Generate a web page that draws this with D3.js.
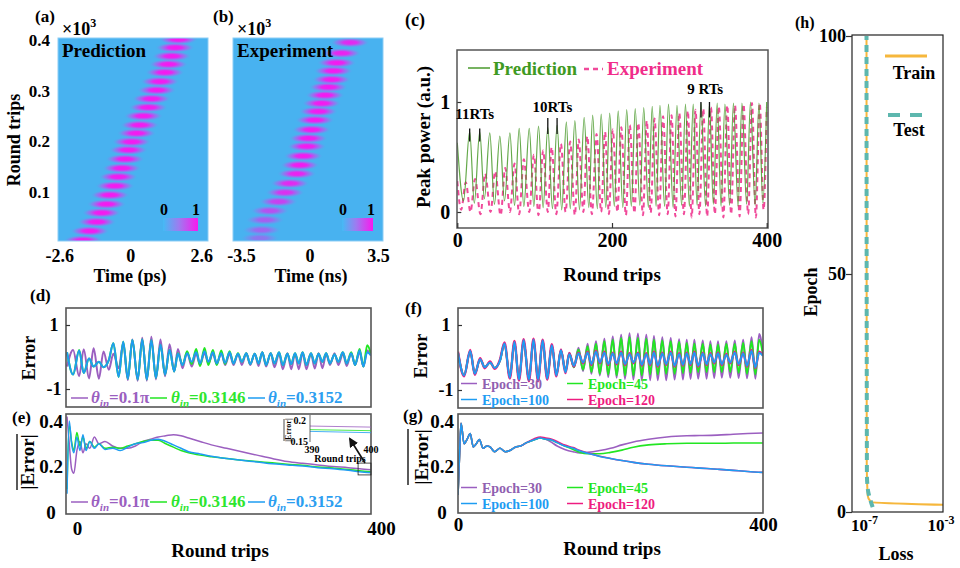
<!DOCTYPE html>
<html lang="en">
<head>
<meta charset="UTF-8">
<title>Pulse evolution prediction</title>
<script src="https://d3js.org/d3.v7.min.js"></script>
<style>
  body { margin: 0; background: #fff; }
  svg text { font-family: "Liberation Serif", "Times New Roman", serif; font-weight: bold; }
</style>
</head>
<body>
<svg width="960" height="568"></svg>
<script>
// ---------- data ----------

// (a) bright stripes: round trip and temporal centre (ps)
const stripeRtA = [5, 23, 41, 59, 76, 94, 112, 130, 147, 165, 183, 199, 216, 232, 250, 267, 284, 301, 318, 336, 352, 368, 385, 401];
const stripeTimeA = [-1.72, -1.48, -1.23, -1.05, -0.87, -0.74, -0.56, -0.44, -0.31, -0.19, -0.07, 0.05, 0.23, 0.35, 0.48, 0.66, 0.78, 0.97, 1.09, 1.27, 1.40, 1.52, 1.64, 1.76];
// (b) measured stripes: round trip, centre (ns), relative brightness
const stripeRtB = [9, 25, 45, 63, 81, 99, 117, 136, 153, 171, 190, 206, 223, 242, 259, 275, 291, 307, 322, 339, 355, 374, 395];
const stripeTimeB = [-2.53, -2.44, -2.27, -2.02, -1.59, -1.25, -1.00, -0.65, -0.49, -0.32, -0.14, -0.06, 0.11, 0.28, 0.45, 0.62, 0.79, 0.96, 1.13, 1.22, 1.39, 1.64, 2.07];
const stripeLevelB = [0.4, 0.5, 0.55, 0.65, 0.75, 0.85, 0.9, 0.95, 1, 1, 1, 1, 1, 1, 1, 1, 1, 1, 1, 1, 1, 0.95, 0.9];

// (c) predicted peak power, sampled at its maxima / minima (round trips)
const rtGrid = [0, 8, 16, 22, 29, 35, 42, 48, 55, 61, 68, 74, 80, 86, 93, 99, 105, 111, 117, 123,
  129, 135, 141, 146, 152, 158, 164, 170, 175, 181, 186, 192, 197, 203, 208, 214, 219, 225, 230, 236,
  241, 247, 252, 257, 262, 268, 273, 279, 284, 290, 295, 300, 305, 310, 315, 321, 326, 331, 336, 341,
  346, 352, 357, 363, 368, 374, 379, 385, 390, 395, 400];
const predPower = [0.63, 0.10, 0.73, 0.08, 0.73, 0.12, 0.72, 0.07, 0.69, 0.10,
  0.72, 0.06, 0.76, 0.05, 0.76, 0.05, 0.78, 0.04, 0.77, 0.03,
  0.79, 0.02, 0.82, 0.03, 0.83, 0.02, 0.86, 0.04, 0.88, 0.03,
  0.89, 0.04, 0.90, 0.05, 0.92, 0.04, 0.93, 0.05, 0.94, 0.06,
  0.95, 0.04, 0.96, 0.05, 0.97, 0.05, 0.98, 0.04, 0.97, 0.06,
  0.98, 0.05, 0.98, 0.06, 0.99, 0.05, 0.98, 0.07, 0.99, 0.05,
  0.98, 0.06, 0.99, 0.05, 0.99, 0.07, 1.00, 0.06, 0.99, 0.08, 1.00];
// (c) measured peak power
const expRT = [0, 5, 11, 17, 23, 30, 36, 43, 49, 56, 62, 68, 74, 80, 86, 93, 99, 105, 111, 117,
  122, 128, 134, 140, 146, 152, 157, 163, 168, 174, 180, 186, 191, 196, 201, 207, 212, 218, 223, 229,
  234, 240, 245, 250, 255, 261, 266, 272, 277, 282, 287, 293, 298, 303, 308, 313, 318, 323, 328, 333,
  338, 344, 349, 354, 359, 365, 370, 376, 381, 386, 391, 396, 400];
const expPower = [0.28, 0.02, 0.27, 0.00, 0.30, -0.02, 0.35, 0.00, 0.37, -0.03,
  0.40, 0.00, 0.44, -0.02, 0.48, 0.00, 0.52, -0.03, 0.56, 0.00,
  0.59, -0.02, 0.62, 0.00, 0.64, -0.03, 0.66, 0.00, 0.69, -0.02,
  0.71, 0.00, 0.73, -0.02, 0.75, 0.00, 0.77, -0.03, 0.79, -0.01,
  0.81, -0.03, 0.83, -0.01, 0.85, -0.03, 0.87, -0.02, 0.88, -0.04,
  0.90, -0.02, 0.92, -0.05, 0.93, -0.02, 0.94, -0.04, 0.95, -0.02,
  0.96, -0.05, 0.97, -0.02, 0.97, -0.04, 0.98, -0.02, 0.99, -0.05,
  0.99, 0.02, 0.95];
// (c) marked periods
const markLabels = ["11RTs", "10RTs", "9 RTs"];
const markRT = [[16, 29], [117, 129], [315, 326]];
const markTop = [0.76, 0.855, 1.0];
const markBottom = [0.64, 0.71, 0.86];

// (d) error for three input angles, on rtGrid
const errTheta01pi = [-0.30, 0.22, -0.60, 0.24, -0.67, 0.27, -0.68, 0.17, -0.40, 0.10,
  -0.35, 0.43, -0.72, 0.55, -0.74, 0.60, -0.74, 0.63, -0.70, 0.55,
  -0.60, 0.40, -0.45, 0.25, -0.35, 0.15, -0.30, 0.10, -0.25, 0.12,
  -0.20, 0.10, -0.22, 0.12, -0.25, 0.10, -0.25, 0.10, -0.25, 0.12,
  -0.25, 0.10, -0.28, 0.15, -0.30, 0.12, -0.32, 0.10, -0.38, 0.12,
  -0.38, 0.10, -0.38, 0.12, -0.38, 0.10, -0.36, 0.12, -0.35, 0.10,
  -0.25, 0.12, -0.25, 0.10, -0.28, 0.12, -0.25, 0.15, -0.30, 0.20, 0.05];
const errTheta3146 = [0.15, -0.55, 0.22, -0.50, -0.05, -0.30, -0.15, -0.32, -0.10, 0.43,
  -0.62, 0.48, -0.68, 0.53, -0.70, 0.55, -0.70, 0.52, -0.65, 0.38,
  -0.55, 0.22, -0.45, 0.12, -0.25, 0.18, -0.22, 0.25, -0.28, 0.28,
  -0.25, 0.22, -0.25, 0.20, -0.22, 0.18, -0.20, 0.12, -0.15, 0.12,
  -0.22, 0.10, -0.20, 0.15, -0.25, 0.12, -0.20, 0.15, -0.25, 0.10,
  -0.22, 0.12, -0.20, 0.15, -0.25, 0.12, -0.20, 0.10, -0.15, 0.12,
  -0.20, 0.08, -0.15, 0.15, -0.20, 0.15, -0.25, 0.25, -0.30, 0.37, 0.10];
const errTheta3152 = [0.15, -0.55, 0.20, -0.50, -0.05, -0.30, -0.15, -0.32, -0.10, 0.43,
  -0.62, 0.48, -0.68, 0.53, -0.70, 0.55, -0.70, 0.52, -0.65, 0.38,
  -0.55, 0.22, -0.45, 0.10, -0.25, 0.12, -0.15, 0.15, -0.20, 0.18,
  -0.15, 0.15, -0.20, 0.12, -0.18, 0.15, -0.20, 0.10, -0.15, 0.12,
  -0.22, 0.10, -0.20, 0.15, -0.25, 0.12, -0.20, 0.15, -0.25, 0.10,
  -0.22, 0.12, -0.20, 0.15, -0.25, 0.12, -0.20, 0.10, -0.15, 0.12,
  -0.20, 0.08, -0.15, 0.15, -0.20, 0.12, -0.25, 0.20, -0.30, 0.15, 0.05];

// (e) running mean |Error|
const eRT = [0, 3, 6, 9, 13, 17, 21, 25, 30, 36, 42, 50, 60, 70, 80, 90, 100, 110, 120, 130,
  140, 150, 160, 175, 190, 210, 230, 250, 270, 290, 310, 330, 350, 370, 385, 400];
const absTheta01pi = [0.42, 0.30, 0.19, 0.17, 0.27, 0.31, 0.26, 0.30, 0.28, 0.33, 0.30, 0.31, 0.29, 0.28, 0.28, 0.29, 0.31, 0.32, 0.33, 0.335,
  0.34, 0.335, 0.325, 0.31, 0.295, 0.28, 0.265, 0.25, 0.235, 0.222, 0.214, 0.207, 0.20, 0.195, 0.19, 0.186];
const absTheta3146 = [0.10, 0.38, 0.31, 0.27, 0.35, 0.29, 0.33, 0.28, 0.31, 0.285, 0.30, 0.28, 0.285, 0.28, 0.29, 0.30, 0.31, 0.315, 0.315, 0.30,
  0.285, 0.27, 0.26, 0.25, 0.243, 0.235, 0.228, 0.222, 0.216, 0.21, 0.205, 0.198, 0.193, 0.187, 0.181, 0.177];
const absTheta3152 = [0.08, 0.40, 0.30, 0.26, 0.33, 0.27, 0.34, 0.27, 0.31, 0.28, 0.30, 0.275, 0.28, 0.27, 0.285, 0.30, 0.305, 0.315, 0.32, 0.31,
  0.295, 0.28, 0.265, 0.255, 0.245, 0.235, 0.227, 0.22, 0.212, 0.207, 0.202, 0.195, 0.19, 0.183, 0.177, 0.172];

// (f) error for four training epochs, on rtGrid
const errEpoch30 = [0.15, -0.55, 0.20, -0.50, -0.05, -0.30, -0.15, -0.32, -0.10, 0.43,
  -0.62, 0.48, -0.68, 0.53, -0.70, 0.55, -0.70, 0.52, -0.65, 0.38,
  -0.55, 0.22, -0.40, 0.15, -0.30, 0.30, -0.42, 0.42, -0.50, 0.50,
  -0.55, 0.58, -0.60, 0.65, -0.62, 0.70, -0.66, 0.75, -0.68, 0.74,
  -0.70, 0.70, -0.70, 0.66, -0.70, 0.62, -0.70, 0.60, -0.68, 0.56,
  -0.68, 0.55, -0.66, 0.55, -0.65, 0.52, -0.65, 0.50, -0.63, 0.50,
  -0.62, 0.50, -0.62, 0.52, -0.63, 0.55, -0.64, 0.62, -0.65, 0.72, 0.10];
const errEpoch45 = [0.15, -0.55, 0.20, -0.50, -0.05, -0.30, -0.15, -0.32, -0.10, 0.43,
  -0.62, 0.48, -0.68, 0.53, -0.70, 0.55, -0.70, 0.52, -0.65, 0.38,
  -0.55, 0.22, -0.42, 0.12, -0.30, 0.25, -0.38, 0.35, -0.45, 0.42,
  -0.50, 0.50, -0.52, 0.55, -0.55, 0.60, -0.55, 0.62, -0.55, 0.60,
  -0.55, 0.58, -0.52, 0.55, -0.52, 0.52, -0.50, 0.50, -0.50, 0.48,
  -0.48, 0.45, -0.47, 0.43, -0.45, 0.42, -0.45, 0.40, -0.45, 0.40,
  -0.45, 0.42, -0.45, 0.42, -0.47, 0.45, -0.50, 0.50, -0.52, 0.55, 0.10];
const errEpoch100 = [0.15, -0.55, 0.20, -0.50, -0.05, -0.30, -0.15, -0.32, -0.10, 0.43,
  -0.62, 0.48, -0.68, 0.53, -0.70, 0.55, -0.70, 0.52, -0.65, 0.38,
  -0.55, 0.22, -0.45, 0.10, -0.25, 0.12, -0.15, 0.15, -0.20, 0.18,
  -0.15, 0.15, -0.20, 0.12, -0.18, 0.15, -0.20, 0.10, -0.15, 0.12,
  -0.22, 0.10, -0.20, 0.15, -0.25, 0.12, -0.20, 0.15, -0.25, 0.10,
  -0.22, 0.12, -0.20, 0.15, -0.25, 0.12, -0.20, 0.10, -0.15, 0.12,
  -0.20, 0.08, -0.15, 0.15, -0.20, 0.12, -0.25, 0.20, -0.30, 0.15, 0.05];
const errEpoch120 = [0.18, -0.58, 0.23, -0.53, -0.02, -0.33, -0.12, -0.35, -0.07, 0.46,
  -0.65, 0.51, -0.71, 0.56, -0.73, 0.58, -0.73, 0.55, -0.68, 0.41,
  -0.58, 0.25, -0.48, 0.13, -0.28, 0.15, -0.18, 0.18, -0.23, 0.21,
  -0.18, 0.18, -0.23, 0.15, -0.21, 0.18, -0.23, 0.13, -0.18, 0.15,
  -0.25, 0.13, -0.23, 0.18, -0.28, 0.15, -0.23, 0.18, -0.28, 0.13,
  -0.25, 0.15, -0.23, 0.18, -0.28, 0.15, -0.23, 0.13, -0.18, 0.15,
  -0.23, 0.11, -0.18, 0.18, -0.23, 0.15, -0.28, 0.23, -0.33, 0.18, 0.08];

// (g) running mean |Error| per epoch
const gRT = [0, 2, 4, 8, 12, 16, 20, 24, 28, 33, 38, 42, 48, 55, 62, 68, 75, 82, 90, 100,
  108, 115, 121, 130, 140, 151, 160, 170, 186, 200, 215, 230, 250, 274, 300, 317, 340, 361, 380, 400];
const absEpoch30 = [0.075, 0.25, 0.39, 0.30, 0.32, 0.345, 0.286, 0.30, 0.318, 0.28, 0.29, 0.286, 0.265, 0.28, 0.265, 0.27, 0.285, 0.29, 0.305, 0.318,
  0.325, 0.32, 0.31, 0.29, 0.275, 0.265, 0.26, 0.262, 0.27, 0.28, 0.295, 0.308, 0.32, 0.33, 0.335, 0.336, 0.338, 0.342, 0.345, 0.347];
const absEpoch45 = [0.075, 0.25, 0.39, 0.30, 0.32, 0.345, 0.286, 0.30, 0.318, 0.28, 0.29, 0.286, 0.265, 0.28, 0.265, 0.27, 0.285, 0.29, 0.305, 0.318,
  0.325, 0.32, 0.318, 0.305, 0.29, 0.275, 0.262, 0.256, 0.256, 0.262, 0.272, 0.285, 0.295, 0.30, 0.302, 0.302, 0.302, 0.303, 0.303, 0.303];
const absEpoch100 = [0.075, 0.25, 0.39, 0.30, 0.32, 0.345, 0.286, 0.30, 0.318, 0.28, 0.29, 0.286, 0.265, 0.28, 0.265, 0.27, 0.285, 0.29, 0.305, 0.318,
  0.325, 0.32, 0.318, 0.305, 0.29, 0.28, 0.268, 0.258, 0.244, 0.235, 0.226, 0.218, 0.21, 0.203, 0.197, 0.193, 0.188, 0.183, 0.178, 0.174];
const absEpoch120 = [0.075, 0.25, 0.39, 0.30, 0.32, 0.345, 0.286, 0.30, 0.318, 0.28, 0.29, 0.286, 0.265, 0.28, 0.265, 0.27, 0.285, 0.29, 0.305, 0.322,
  0.33, 0.325, 0.322, 0.31, 0.294, 0.283, 0.27, 0.259, 0.245, 0.235, 0.226, 0.218, 0.21, 0.203, 0.197, 0.193, 0.188, 0.183, 0.178, 0.174];

// (h) loss vs epoch
const trainLoss = [1e-3, 1.7e-7, 1.15e-7, 1.03e-7, 1e-7];
const trainEpoch = [1.5, 2.1, 3.5, 10, 100];
const testLoss = [2.1e-7, 1.6e-7, 1.2e-7, 1.05e-7, 1e-7];
const testEpoch = [1.0, 2.5, 4.5, 8, 100];

// legends / ticks
const thetaLabels = ["0.1π", "0.3146", "0.3152"];
const epochLabels = ["Epoch=30", "Epoch=45", "Epoch=100", "Epoch=120"];
const ticksA = [0.1, 0.2, 0.3, 0.4];
const ticksTimeA = [-2.6, 0, 2.6];
const ticksTimeB = [-3.5, 0, 3.5];
const ticksRT = [0, 200, 400];
const ticksAbs = [0, 0.2, 0.4];

// ---------- drawing ----------
const PURPLE = "#9b5fc0", GREEN = "#22e622", BLUE = "#1e9cf2", PINK = "#ee1c80";
const svg = d3.select("svg");
const defs = svg.append("defs");

function clip(id, x0, y0, x1, y1) {
  defs.append("clipPath").attr("id", id).append("rect")
    .attr("x", x0).attr("y", y0).attr("width", x1 - x0).attr("height", y1 - y0);
  return `url(#${id})`;
}
function text(x, y, s, size, o = {}) {
  const t = svg.append("text").attr("x", x).attr("y", y).attr("font-size", size)
    .attr("text-anchor", o.anchor || "start").attr("fill", o.fill || "#000").text(s);
  if (o.rotate) t.attr("transform", `rotate(-90,${x},${y})`);
  if (o.weight) t.attr("font-weight", o.weight);
  return t;
}
function frame(x0, y0, x1, y1, color, w) {
  svg.append("rect").attr("x", x0).attr("y", y0).attr("width", x1 - x0).attr("height", y1 - y0)
    .attr("fill", "none").attr("stroke", color).attr("stroke-width", w);
}
function styleAxis(g, size) {
  g.select(".domain").remove();
  g.selectAll("text").attr("font-size", size).attr("fill", "#000");
  g.selectAll("line").attr("stroke", "#333").attr("stroke-width", 1.2);
  return g;
}
const curve = (xs, X, Y) => d3.line().x((d, i) => X(xs[i])).y(d => Y(d)).curve(d3.curveMonotoneX);

// gradients
const blob = defs.append("radialGradient").attr("id", "blob");
blob.append("stop").attr("offset", "0%").attr("stop-color", "#fa14f0");
blob.append("stop").attr("offset", "35%").attr("stop-color", "#f01ef0").attr("stop-opacity", 0.95);
blob.append("stop").attr("offset", "70%").attr("stop-color", "#b060f0").attr("stop-opacity", 0.55);
blob.append("stop").attr("offset", "100%").attr("stop-color", "#48b2f0").attr("stop-opacity", 0);
const cbar = defs.append("linearGradient").attr("id", "cbar");
cbar.append("stop").attr("offset", "0%").attr("stop-color", "#45baf5");
cbar.append("stop").attr("offset", "45%").attr("stop-color", "#9d7cf0");
cbar.append("stop").attr("offset", "100%").attr("stop-color", "#fa18ee");
defs.append("marker").attr("id", "arrow").attr("viewBox", "0 0 10 10").attr("refX", 8).attr("refY", 5)
  .attr("markerWidth", 6).attr("markerHeight", 6).attr("orient", "auto")
  .append("path").attr("d", "M0,0 L10,5 L0,10 z").attr("fill", "#111");

// ===== (a) and (b) heatmaps =====
const yA = d3.scaleLinear().domain([0, 0.4]).range([242.7, 40]);
const xA = d3.scaleLinear().domain([-2.65, 2.85]).range([58, 208]);
const xB = d3.scaleLinear().domain([-3.5, 3.5]).range([241, 378]);

function heat(id, x0, x1, X, rts, times, levels) {
  svg.append("rect").attr("x", x0).attr("y", 38).attr("width", x1 - x0).attr("height", 203).attr("fill", "#48b2f0");
  const g = svg.append("g").attr("clip-path", clip(id, x0, 38, x1, 241));
  g.selectAll("ellipse").data(rts).join("ellipse")
    .attr("cx", (d, i) => X(times[i])).attr("cy", d => yA(d / 1000))
    .attr("rx", 20).attr("ry", 5.2).attr("fill", "url(#blob)")
    .attr("opacity", (d, i) => levels ? levels[i] : 1);
  frame(x0, 38, x1, 241, "#8ccdf5", 1);
}
heat("clipA", 58, 208, xA, stripeRtA, stripeTimeA, null);
heat("clipB", 233, 383, xB, stripeRtB, stripeTimeB, stripeLevelB);

styleAxis(svg.append("g").attr("transform", "translate(58,0)")
  .call(d3.axisLeft(yA).tickValues(ticksA).tickSize(0).tickPadding(8).tickFormat(d => d)), 17);
styleAxis(svg.append("g").attr("transform", "translate(0,241)")
  .call(d3.axisBottom(xA).tickValues(ticksTimeA).tickSize(0).tickPadding(8).tickFormat(d => d)), 18);
styleAxis(svg.append("g").attr("transform", "translate(0,241)")
  .call(d3.axisBottom(xB).tickValues(ticksTimeB).tickSize(0).tickPadding(8).tickFormat(d => d)), 18);

text(35, 22, "(a)", 17);
text(213, 22, "(b)", 17);
[[62, 35], [237, 35]].forEach(([x, y]) => {
  const t = text(x, y, "×10", 18, { weight: "normal" });
  t.append("tspan").attr("dy", -8).attr("font-size", 12).text("3");
});
text(62, 57, "Prediction", 19);
text(237, 57, "Experiment", 19);
text(20, 140, "Round trips", 18, { anchor: "middle", rotate: true });
text(130, 282, "Time (ps)", 18, { anchor: "middle" });
text(311, 282, "Time (ns)", 18, { anchor: "middle" });
// colour bars
[[163, 198], [342, 373]].forEach(([x0, x1]) => {
  svg.append("rect").attr("x", x0).attr("y", 218).attr("width", x1 - x0).attr("height", 13).attr("fill", "url(#cbar)");
  text(x0 + 1, 215, "0", 16, { anchor: "middle" });
  text(x1 - 2, 215, "1", 16, { anchor: "middle" });
});

// ===== (c) peak power =====
const xC = d3.scaleLinear().domain([0, 400]).range([457.3, 766.7]);
const yC = d3.scaleLinear().domain([0, 1]).range([212, 102]);
const gC = svg.append("g").attr("clip-path", clip("clipC", 457, 50, 768, 228));
gC.append("path").attr("d", curve(expRT, xC, yC)(expPower))
  .attr("fill", "none").attr("stroke", "#f04a9a").attr("stroke-width", 2)
  .attr("stroke-dasharray", "5,4");
gC.append("path").attr("d", curve(rtGrid, xC, yC)(predPower))
  .attr("fill", "none").attr("stroke", "#4a9a2c").attr("stroke-width", 1.2).attr("opacity", 0.85);
frame(457, 50, 768, 228, "#555", 1.5);
styleAxis(svg.append("g").attr("transform", "translate(457.3,0)")
  .call(d3.axisLeft(yC).tickValues([0, 1]).tickSize(-4).tickPadding(7).tickFormat(d => d)), 20);
styleAxis(svg.append("g").attr("transform", "translate(0,228)")
  .call(d3.axisBottom(xC).tickValues(ticksRT).tickSize(-5).tickPadding(5)), 20);
text(405, 26, "(c)", 18);
text(430, 137, "Peak power (a.u.)", 19, { anchor: "middle", rotate: true });
text(612, 281, "Round trips", 19, { anchor: "middle" });
svg.append("line").attr("x1", 468).attr("x2", 490).attr("y1", 68).attr("y2", 68).attr("stroke", "#4a9a2c").attr("stroke-width", 1.5);
text(493, 75, "Prediction", 19, { fill: "#3f9a22" });
svg.append("line").attr("x1", 584).attr("x2", 603).attr("y1", 69).attr("y2", 69).attr("stroke", "#f04a9a").attr("stroke-width", 2.5).attr("stroke-dasharray", "5,4");
text(607, 75, "Experiment", 19, { fill: "#f02d8a" });
const markTextY = [119, 112, 94];
markLabels.forEach((lab, k) => {
  markRT[k].forEach(rt => {
    svg.append("line").attr("x1", xC(rt)).attr("x2", xC(rt))
      .attr("y1", yC(markTop[k])).attr("y2", yC(markBottom[k])).attr("stroke", "#111").attr("stroke-width", 1.3);
  });
  text((xC(markRT[k][0]) + xC(markRT[k][1])) / 2, markTextY[k], lab, 15, { anchor: "middle" });
});

// ===== (d) error vs theta =====
const xD = d3.scaleLinear().domain([0, 400]).range([67, 371]);
const yD = d3.scaleLinear().domain([-1, 1]).range([389, 325]);
const gD = svg.append("g").attr("clip-path", clip("clipD", 66, 308, 371, 407));
[[errTheta01pi, PURPLE], [errTheta3146, GREEN], [errTheta3152, BLUE]].forEach(([vals, col]) => {
  gD.append("path").attr("d", curve(rtGrid, xD, yD)(vals)).attr("fill", "none").attr("stroke", col).attr("stroke-width", 2);
});
frame(66, 308, 371, 407, "#555", 1.6);
const axD = styleAxis(svg.append("g").attr("transform", "translate(66,0)")
  .call(d3.axisLeft(yD).tickValues([-1, 1]).tickSize(-4).tickPadding(0).tickFormat(d => d)), 18);
axD.selectAll("text").attr("text-anchor", "middle").attr("x", -12);
text(30, 301, "(d)", 17);
text(35, 358, "Error", 18, { anchor: "middle", rotate: true });

function thetaLegend(y) {
  const lineX = [71, 150, 248], textX = [91, 171, 268], cols = [PURPLE, "#2ee62e", "#2c9ef0"];
  thetaLabels.forEach((lab, i) => {
    svg.append("line").attr("x1", lineX[i]).attr("x2", lineX[i] + 17).attr("y1", y - 5).attr("y2", y - 5)
      .attr("stroke", [PURPLE, GREEN, BLUE][i]).attr("stroke-width", 1.5);
    const t = text(textX[i], y, "", 17, { fill: cols[i] });
    t.append("tspan").attr("font-style", "italic").text("θ");
    t.append("tspan").attr("font-style", "italic").attr("font-size", 11).attr("dy", 4).text("in");
    t.append("tspan").attr("dy", -4).text("=" + lab);
  });
}
thetaLegend(403);

// ===== (e) mean |error| vs theta =====
const yE = d3.scaleLinear().domain([0, 0.4]).range([512, 421]);
const gE = svg.append("g").attr("clip-path", clip("clipE", 66, 414, 371, 514));
[[absTheta01pi, PURPLE], [absTheta3146, GREEN], [absTheta3152, BLUE]].forEach(([vals, col]) => {
  gE.append("path").attr("d", curve(eRT, xD, yE)(vals)).attr("fill", "none").attr("stroke", col).attr("stroke-width", 1.5);
});
frame(66, 414, 371, 514, "#555", 1.6);
const axE = styleAxis(svg.append("g").attr("transform", "translate(66,0)")
  .call(d3.axisLeft(yE).tickValues(ticksAbs).tickSize(0).tickPadding(0).tickFormat(d => d)), 19);
axE.selectAll("text").attr("text-anchor", "middle").attr("x", -15);
const axEx = styleAxis(svg.append("g").attr("transform", "translate(0,514)")
  .call(d3.axisBottom(xD).tickValues([0, 400]).tickSize(0).tickPadding(8)), 19);
axEx.selectAll("text").attr("dx", 10);
text(12, 423, "(e)", 17);
text(34, 462, "|Error|", 19, { anchor: "middle", rotate: true });
svg.append("line").attr("x1", 17).attr("x2", 17).attr("y1", 434).attr("y2", 490).attr("stroke", "#000").attr("stroke-width", 1.3);
text(220, 557, "Round trips", 19, { anchor: "middle" });
thetaLegend(507);

// inset zoom of the last ten round trips
const xIn = d3.scaleLinear().domain([390, 400]).range([310, 371]);
const yIn = d3.scaleLinear().domain([0.15, 0.2]).range([441.5, 421.5]);
const gIn = svg.append("g").attr("clip-path", clip("clipIn", 310, 414, 371, 445));
[[absTheta01pi, PURPLE], [absTheta3146, GREEN], [absTheta3152, BLUE]].forEach(([vals, col]) => {
  gIn.append("path").attr("d", d3.line().x((d, i) => xIn(eRT[i + 34])).y(d => yIn(d))(vals.slice(34)))
    .attr("fill", "none").attr("stroke", col).attr("stroke-width", 1).attr("opacity", 0.8);
});
svg.append("line").attr("x1", 310).attr("x2", 310).attr("y1", 415).attr("y2", 442).attr("stroke", "#444").attr("stroke-width", 0.8);
text(306, 424, "0.2", 10, { anchor: "end" });
text(308, 445, "0.15", 10, { anchor: "end" });
text(312, 453, "390", 10, { anchor: "middle" });
text(371, 453, "400", 10, { anchor: "middle" });
text(340, 462, "Round trips", 10, { anchor: "middle" });
text(291, 430, "|Error|", 8, { anchor: "middle", rotate: true });
svg.append("line").attr("x1", 284).attr("x2", 284).attr("y1", 419).attr("y2", 441).attr("stroke", "#000").attr("stroke-width", 0.7);
svg.append("rect").attr("x", xD(383)).attr("y", yE(0.215)).attr("width", xD(400) - xD(383)).attr("height", yE(0.163) - yE(0.215))
  .attr("fill", "none").attr("stroke", "#222").attr("stroke-width", 0.8);
svg.append("line").attr("x1", 365).attr("y1", 463).attr("x2", 350).attr("y2", 439)
  .attr("stroke", "#111").attr("stroke-width", 1.6).attr("marker-end", "url(#arrow)");

// ===== (f) error vs epoch =====
const xF = d3.scaleLinear().domain([0, 400]).range([458, 763]);
const yF = d3.scaleLinear().domain([-1, 1]).range([390, 325]);
const gF = svg.append("g").attr("clip-path", clip("clipF", 458, 308, 763, 408));
[[errEpoch30, PURPLE, 2], [errEpoch45, GREEN, 2], [errEpoch120, PINK, 2.4], [errEpoch100, BLUE, 2]].forEach(([vals, col, w]) => {
  gF.append("path").attr("d", curve(rtGrid, xF, yF)(vals)).attr("fill", "none").attr("stroke", col).attr("stroke-width", w);
});
frame(458, 308, 763, 408, "#555", 1.6);
const axF = styleAxis(svg.append("g").attr("transform", "translate(458,0)")
  .call(d3.axisLeft(yF).tickValues([-1, 1]).tickSize(-4).tickPadding(0).tickFormat(d => d)), 18);
axF.selectAll("text").attr("text-anchor", "middle").attr("x", -12);
text(405, 314, "(f)", 17);
text(427, 356, "Error", 18, { anchor: "middle", rotate: true });

function epochLegend(y0, y1) {
  const cols = [PURPLE, GREEN, BLUE, PINK], txtCols = ["#9060b0", "#22e622", "#1e9cf2", "#ee1c80"];
  epochLabels.forEach((lab, i) => {
    const lx = i % 2 ? 567 : 461, tx = i % 2 ? 588 : 482, y = i < 2 ? y0 : y1;
    svg.append("line").attr("x1", lx).attr("x2", lx + 16).attr("y1", y - 5).attr("y2", y - 5)
      .attr("stroke", cols[i]).attr("stroke-width", 1.5);
    text(tx, y, lab, 14, { fill: txtCols[i] });
  });
}
epochLegend(388.5, 404.5);

// ===== (g) mean |error| vs epoch =====
const yG = d3.scaleLinear().domain([0, 0.4]).range([512, 421]);
const gG = svg.append("g").attr("clip-path", clip("clipG", 458, 414, 763, 513));
[[absEpoch30, PURPLE], [absEpoch45, GREEN], [absEpoch120, PINK], [absEpoch100, BLUE]].forEach(([vals, col]) => {
  gG.append("path").attr("d", curve(gRT, xF, yG)(vals)).attr("fill", "none").attr("stroke", col).attr("stroke-width", 1.6);
});
frame(458, 414, 763, 513, "#555", 1.6);
const axG = styleAxis(svg.append("g").attr("transform", "translate(458,0)")
  .call(d3.axisLeft(yG).tickValues(ticksAbs).tickSize(0).tickPadding(0).tickFormat(d => d)), 19);
axG.selectAll("text").attr("text-anchor", "middle").attr("x", -16);
styleAxis(svg.append("g").attr("transform", "translate(0,513)")
  .call(d3.axisBottom(xF).tickValues([0, 400]).tickSize(0).tickPadding(5)), 19);
text(403, 421, "(g)", 17);
text(428, 457, "|Error|", 19, { anchor: "middle", rotate: true });
svg.append("line").attr("x1", 408).attr("x2", 408).attr("y1", 429).attr("y2", 485).attr("stroke", "#000").attr("stroke-width", 1.3);
text(612, 555, "Round trips", 19, { anchor: "middle" });
epochLegend(492.5, 508.5);

// ===== (h) loss =====
const xH = d3.scaleLog().domain([1e-7, 1e-3]).range([866.5, 943]);
const yH = d3.scaleLinear().domain([0, 100]).range([512, 36]);
const gH = svg.append("g").attr("clip-path", clip("clipH", 852, 35, 943, 512));
gH.append("path").attr("d", d3.line().x((d, i) => xH(trainLoss[i])).y(d => yH(d)).curve(d3.curveMonotoneY)(trainEpoch))
  .attr("fill", "none").attr("stroke", "#f6b73c").attr("stroke-width", 2);
gH.append("path").attr("d", d3.line().x((d, i) => xH(testLoss[i])).y(d => yH(d)).curve(d3.curveMonotoneY)(testEpoch))
  .attr("fill", "none").attr("stroke", "#5db7ae").attr("stroke-width", 4).attr("stroke-dasharray", "7,5");
frame(852, 35, 943, 512, "#222", 1.2);
styleAxis(svg.append("g").attr("transform", "translate(852,0)")
  .call(d3.axisLeft(yH).tickValues([0, 50, 100]).tickSize(6).tickPadding(0)), 18);
[1e-7, 1e-3].forEach(v => {
  const t = text(xH(v) - 2, 531, "10", 17, { anchor: "middle" });
  t.append("tspan").attr("dy", -7).attr("font-size", 12).text(v === 1e-7 ? "-7" : "-3");
});
text(795, 28, "(h)", 16);
text(817, 292, "Epoch", 18, { anchor: "middle", rotate: true });
text(896, 560, "Loss", 18, { anchor: "middle" });
svg.append("line").attr("x1", 885).attr("x2", 927).attr("y1", 56).attr("y2", 56).attr("stroke", "#f6b73c").attr("stroke-width", 3);
text(914, 79, "Train", 18, { anchor: "middle" });
svg.append("line").attr("x1", 888).attr("x2", 924).attr("y1", 115).attr("y2", 115).attr("stroke", "#5db7ae").attr("stroke-width", 4).attr("stroke-dasharray", "12,10");
text(909, 136, "Test", 18, { anchor: "middle" });
</script>
</body>
</html>
